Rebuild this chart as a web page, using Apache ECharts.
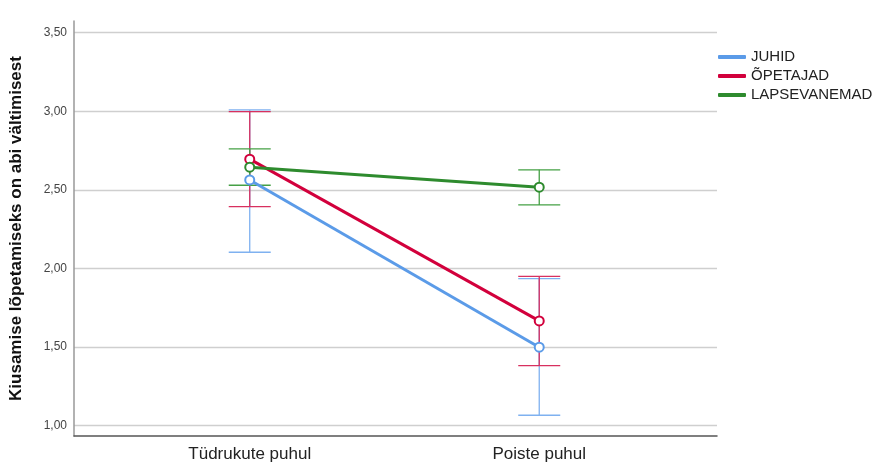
<!DOCTYPE html>
<html><head><meta charset="utf-8">
<script src="https://cdn.jsdelivr.net/npm/echarts@6/dist/echarts.min.js"></script>
<style>html,body{margin:0;padding:0;background:#fff}#c{width:874px;height:464px}</style>
</head><body><div id="c"></div>
<script>
const categories = ['Tüdrukute puhul', 'Poiste puhul'];
const seriesNames = ['JUHID', 'ÕPETAJAD', 'LAPSEVANEMAD'];
const means = {
  'JUHID':        [2.563, 1.499],
  'ÕPETAJAD':     [2.695, 1.666],
  'LAPSEVANEMAD': [2.644, 2.517]
};
const lower = {
  'JUHID':        [2.103, 1.066],
  'ÕPETAJAD':     [2.393, 1.382],
  'LAPSEVANEMAD': [2.529, 2.404]
};
const upper = {
  'JUHID':        [3.008, 1.935],
  'ÕPETAJAD':     [2.997, 1.950],
  'LAPSEVANEMAD': [2.760, 2.627]
};
const yTicks = [1.0, 1.5, 2.0, 2.5, 3.0, 3.5];

const lineColors = {'JUHID':'#5B9BE8','ÕPETAJAD':'#D2003C','LAPSEVANEMAD':'#2E8B2E'};
const barColors  = {'JUHID':'#7FB1F0','ÕPETAJAD':'#D8305F','LAPSEVANEMAD':'#45A045'};

const series = [];
seriesNames.forEach(n => {
  series.push({
    name: n, type: 'line',
    data: categories.map((c, i) => [i, means[n][i]]),
    lineStyle: {width: 3, color: lineColors[n]},
    itemStyle: {color: lineColors[n], borderColor: barColors[n], borderWidth: 1},
    symbol: 'emptyCircle', symbolSize: 9, showSymbol: true,
    emphasis: {disabled: true}, z: 3
  });
});
seriesNames.forEach(n => {
  series.push({
    name: n + '_err', type: 'custom',
    data: categories.map((c, i) => [i, lower[n][i], upper[n][i]]),
    encode: {x: 0, y: [1, 2]},
    z: 2,
    renderItem: function (params, api) {
      const x = api.value(0);
      const lo = api.coord([x, api.value(1)]);
      const hi = api.coord([x, api.value(2)]);
      const hw = 21;
      const st = {stroke: barColors[n], lineWidth: 1.3};
      return {type: 'group', children: [
        {type: 'line', shape: {x1: lo[0], y1: lo[1], x2: hi[0], y2: hi[1]}, style: st},
        {type: 'line', shape: {x1: lo[0]-hw, y1: lo[1], x2: lo[0]+hw, y2: lo[1]}, style: st},
        {type: 'line', shape: {x1: hi[0]-hw, y1: hi[1], x2: hi[0]+hw, y2: hi[1]}, style: st}
      ]};
    }
  });
});

const chart = echarts.init(document.getElementById('c'), null, {renderer: 'canvas'});
chart.setOption({
  animation: false,
  backgroundColor: '#fff',
  grid: {left: 73, right: 157, top: 21, bottom: 28, containLabel: false},
  legend: {
    data: seriesNames.map(n => ({name: n, icon: 'roundRect', itemStyle: {color: lineColors[n], borderWidth: 0}})),
    orient: 'vertical', left: 713, top: 44,
    itemWidth: 28, itemHeight: 4, itemGap: 3,
    textStyle: {fontFamily: 'Liberation Sans, Arial', fontSize: 15, lineHeight: 16, color: '#222'},
    selectedMode: false
  },
  xAxis: {
    type: 'value', min: -0.607, max: 1.614,
    axisLine: {show: true, onZero: false, lineStyle: {color: '#555', width: 1.5}},
    axisTick: {show: false, customValues: [0, 1]},
    splitLine: {show: false},
    axisLabel: {
      customValues: [0, 1],
      formatter: v => categories[Math.round(v)],
      fontFamily: 'Liberation Sans, Arial', fontSize: 17, color: '#222', margin: 10
    }
  },
  yAxis: {
    type: 'value', min: 0.934, max: 3.574,
    name: 'Kiusamise lõpetamiseks on abi vältimisest',
    nameLocation: 'middle', nameGap: 49, nameRotate: 90,
    nameTextStyle: {fontFamily: 'Liberation Sans, Arial', fontSize: 17, fontWeight: 'bold', color: '#111'},
    axisLine: {show: true, onZero: false, lineStyle: {color: '#999', width: 1.5}},
    axisTick: {show: false, customValues: yTicks},
    splitLine: {show: true, lineStyle: {color: '#cfcfcf', width: 1.3}},
    axisLabel: {
      customValues: yTicks,
      formatter: v => v.toFixed(2).replace('.', ','),
      fontFamily: 'Liberation Sans, Arial', fontSize: 12, color: '#444', margin: 7
    }
  },
  series: series
});
</script></body></html>
